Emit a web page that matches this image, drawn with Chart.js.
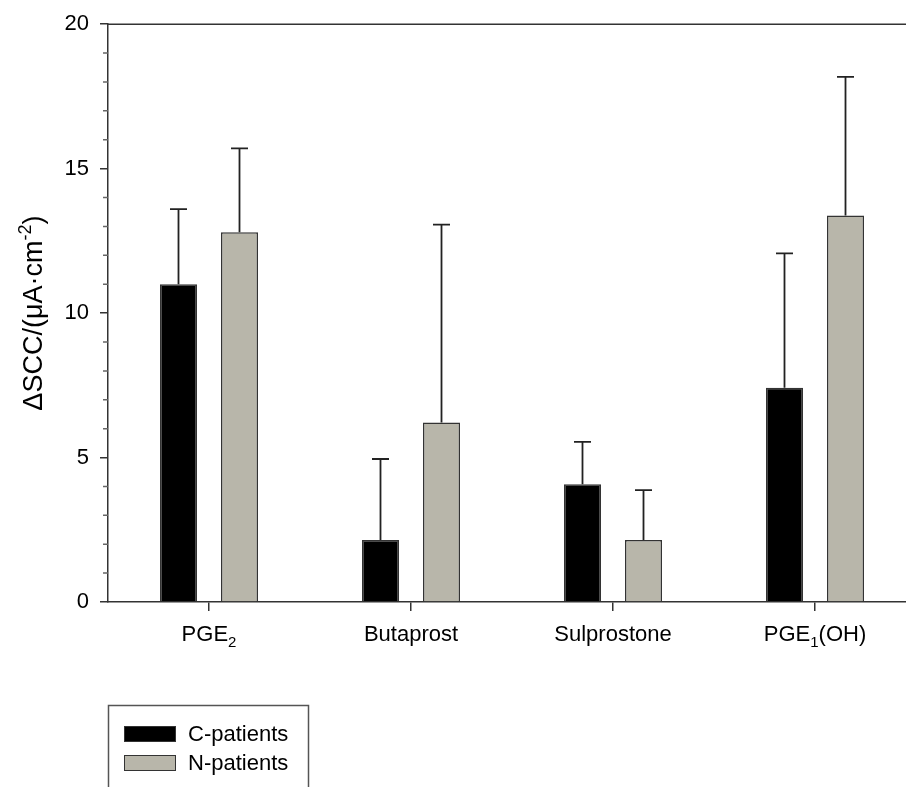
<!DOCTYPE html>
<html><head><meta charset="utf-8">
<script src="https://cdn.jsdelivr.net/npm/chart.js@4.4.0/dist/chart.umd.min.js"></script>
<style>html,body{margin:0;padding:0;background:#fff;overflow:hidden}#wrap{width:920px;height:787px;position:relative}</style>
</head><body><div id="wrap"><canvas id="c"></canvas></div>
<script>
// ---- data ----
const categories = ['PGE₂', 'Butaprost', 'Sulprostone', 'PGE₁(OH)'];
const seriesNames = ['C-patients', 'N-patients'];
const cMeans = [11.0, 2.15, 4.08, 7.42];
const cSD = [2.6, 2.8, 1.46, 4.65];
const nMeans = [12.8, 6.21, 2.15, 13.38];
const nSD = [2.9, 6.85, 1.72, 4.8];
const yTicks = [0, 5, 10, 15, 20];
const yTitle = 'ΔSCC/(μA·cm⁻²)';

const FONT = '"Liberation Sans", Arial, sans-serif';
const SUB = {'₀':'0','₁':'1','₂':'2','₃':'3','₄':'4','₅':'5','₆':'6','₇':'7','₈':'8','₉':'9'};
const SUP = {'⁻':'-','⁰':'0','¹':'1','²':'2','³':'3','⁴':'4','⁵':'5','⁶':'6','⁷':'7','⁸':'8','⁹':'9'};

function richParts(str) {
  const out = [];
  for (const ch of str) {
    let type = 'n', c = ch;
    if (SUB[ch]) { type = 'sub'; c = SUB[ch]; }
    else if (SUP[ch]) { type = 'sup'; c = SUP[ch]; }
    const last = out[out.length - 1];
    if (last && last.type === type) last.t += c; else out.push({type, t: c});
  }
  return out;
}
function drawRich(ctx, str, x, y, size, align) {
  const ps = richParts(str);
  let total = 0;
  ps.forEach(p => {
    p.size = p.type === 'n' ? size : Math.round(size * 0.66);
    ctx.font = p.size + 'px ' + FONT;
    p.w = ctx.measureText(p.t).width;
    total += p.w;
  });
  let cx = align === 'center' ? x - total / 2 : x;
  ctx.textAlign = 'left';
  ps.forEach(p => {
    ctx.font = p.size + 'px ' + FONT;
    const dy = p.type === 'sub' ? size * 0.25 : p.type === 'sup' ? -size * 0.4 : 0;
    ctx.fillText(p.t, cx, y + dy);
    cx += p.w;
  });
}

const sds = [cSD, nSD];

const decor = {
  id: 'decor',
  afterDatasetsDraw(chart) {
    const {ctx, scales: {y}} = chart;
    ctx.save();
    ctx.strokeStyle = '#222';
    ctx.lineWidth = 1.8;
    sds.forEach((sd, i) => {
      const meta = chart.getDatasetMeta(i);
      meta.data.forEach((el, j) => {
        const top = y.getPixelForValue(chart.data.datasets[i].data[j] + sd[j]);
        ctx.beginPath();
        ctx.moveTo(el.x, el.y);
        ctx.lineTo(el.x, top);
        ctx.moveTo(el.x - 8.5, top);
        ctx.lineTo(el.x + 8.5, top);
        ctx.stroke();
      });
    });
    ctx.restore();
  },
  afterDraw(chart) {
    const {ctx, chartArea: a, scales: {x, y}} = chart;
    ctx.save();
    ctx.strokeStyle = '#333';
    ctx.lineWidth = 1.5;
    // top frame line
    ctx.beginPath();
    ctx.moveTo(a.left, a.top);
    ctx.lineTo(a.right, a.top);
    ctx.stroke();
    // minor ticks
    ctx.strokeStyle = '#666';
    ctx.beginPath();
    for (let v = y.min; v <= y.max; v += 1) {
      if (v % 5 === 0) continue;
      const py = y.getPixelForValue(v);
      ctx.moveTo(a.left - 5, py);
      ctx.lineTo(a.left, py);
    }
    ctx.stroke();
    // x category labels
    ctx.fillStyle = '#000';
    ctx.textBaseline = 'alphabetic';
    categories.forEach((c, i) => {
      drawRich(ctx, c, x.getPixelForValue(i), a.bottom + 39, 22, 'center');
    });
    // y title
    ctx.save();
    ctx.translate(42, (a.top + a.bottom) / 2);
    ctx.rotate(-Math.PI / 2);
    drawRich(ctx, yTitle, 0, 0, 27, 'center');
    ctx.restore();
    // legend
    const lx = a.left, ly = a.bottom + 103;
    ctx.strokeStyle = '#555';
    ctx.lineWidth = 1.5;
    ctx.strokeRect(lx + 0.5, ly + 0.5, 200, 140);
    chart.data.datasets.forEach((ds, i) => {
      const sy = ly + 21 + i * 29;
      ctx.fillStyle = ds.backgroundColor;
      ctx.fillRect(lx + 16, sy, 52, 16);
      ctx.strokeStyle = '#333';
      ctx.lineWidth = 1;
      ctx.strokeRect(lx + 16.5, sy + 0.5, 51, 15);
      ctx.fillStyle = '#000';
      ctx.font = '22px ' + FONT;
      ctx.textAlign = 'left';
      ctx.textBaseline = 'middle';
      ctx.fillText(ds.label, lx + 80, sy + 9);
    });
    ctx.restore();
  }
};

new Chart(document.getElementById('c'), {
  type: 'bar',
  data: {
    labels: categories,
    datasets: [
      {label: seriesNames[0], data: cMeans, backgroundColor: '#000000', borderColor: '#333', borderWidth: 1.5},
      {label: seriesNames[1], data: nMeans, backgroundColor: '#b8b6aa', borderColor: '#333', borderWidth: 1.5}
    ]
  },
  options: {
    responsive: true,
    maintainAspectRatio: false,
    animation: false,
    categoryPercentage: 0.604,
    barPercentage: 0.607,
    layout: {padding: {top: 20, right: 4, left: 0, bottom: 0}},
    plugins: {legend: {display: false}, tooltip: {enabled: false}},
    scales: {
      x: {
        type: 'category',
        offset: true,
        grid: {display: true, drawOnChartArea: false, offset: false, drawTicks: true, tickLength: 9, color: '#333', lineWidth: 1.5},
        border: {display: true, color: '#333', width: 1.5},
        ticks: {callback: () => '', maxRotation: 0, autoSkip: false},
        afterFit(s) { s.height = 185; }
      },
      y: {
        min: 0, max: 20,
        afterBuildTicks(s) { s.ticks = yTicks.map(v => ({value: v})); },
        grid: {display: true, drawOnChartArea: false, drawTicks: true, tickLength: 8, color: '#333', lineWidth: 1.5},
        border: {display: true, color: '#333', width: 1.5},
        ticks: {color: '#000', font: {size: 22, family: FONT}, padding: 11},
        afterFit(s) { s.width = 108; }
      }
    }
  },
  plugins: [decor]
});
</script></body></html>
